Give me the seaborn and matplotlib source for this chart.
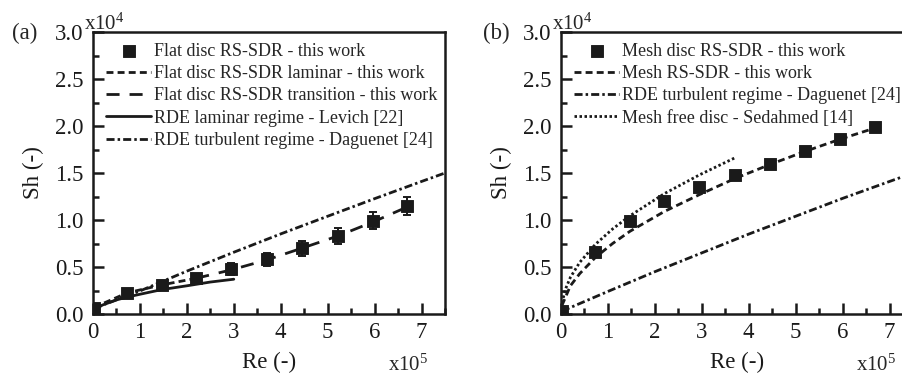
import numpy as np
import seaborn as sns
import matplotlib.pyplot as plt
from matplotlib.ticker import MultipleLocator, FormatStrFormatter

# values: Re in units of 1e5, Sh in units of 1e4
# (a) flat disc
flat_re = [0.02, 0.73, 1.47, 2.2, 2.95, 3.7, 4.45, 5.22, 5.97, 6.7]
flat_sh = [0.06, 0.22, 0.31, 0.38, 0.48, 0.58, 0.70, 0.83, 0.99, 1.15]
flat_err = [0.02, 0.03, 0.03, 0.04, 0.065, 0.07, 0.08, 0.085, 0.09, 0.095]

flat_lam_re = [0.02, 0.73, 1.47, 2.2]
flat_lam_sh = [0.07, 0.225, 0.31, 0.38]

flat_trans_re = [2.2, 2.95, 3.7, 4.45, 5.22, 5.97, 6.7]
flat_trans_sh = [0.38, 0.47, 0.575, 0.70, 0.83, 0.98, 1.14]

levich_re = [0.02, 0.2, 0.5, 0.73, 1.0, 1.47, 2.0, 2.5, 3.0]
levich_sh = [0.04, 0.095, 0.15, 0.18, 0.21, 0.26, 0.30, 0.34, 0.37]

dag_a_re = [0.02, 1, 2, 3, 4, 5, 6, 7, 7.5]
dag_a_sh = [0.06, 0.245, 0.456, 0.657, 0.852, 1.04, 1.227, 1.41, 1.5]

# (b) mesh disc
mesh_re = [0.02, 0.73, 1.47, 2.2, 2.95, 3.7, 4.45, 5.2, 5.95, 6.7]
mesh_sh = [0.03, 0.66, 0.99, 1.20, 1.35, 1.48, 1.60, 1.73, 1.86, 1.99]

mesh_fit_re = [0.02, 0.2, 0.4, 0.73, 1.1, 1.47, 2.2, 2.95, 3.7, 4.45, 5.2, 5.95, 6.7]
mesh_fit_sh = [0.09, 0.30, 0.43, 0.60, 0.75, 0.88, 1.09, 1.27, 1.44, 1.59, 1.73, 1.86, 1.98]

sedahmed_re = [0.02, 0.1, 0.2, 0.4, 0.73, 1.1, 1.47, 2.2, 2.95, 3.7]
sedahmed_sh = [0.12, 0.27, 0.39, 0.55, 0.74, 0.905, 1.045, 1.28, 1.48, 1.66]

dag_b_re = [0.02, 1, 2, 3, 4, 5, 6, 7, 7.5]
dag_b_sh = [0.03, 0.24, 0.45, 0.65, 0.85, 1.04, 1.23, 1.41, 1.5]

labels_a = ["Flat disc RS-SDR - this work",
            "Flat disc RS-SDR laminar - this work",
            "Flat disc RS-SDR transition - this work",
            "RDE laminar regime - Levich [22]",
            "RDE turbulent regime - Daguenet [24]"]
labels_b = ["Mesh disc RS-SDR - this work",
            "Mesh RS-SDR - this work",
            "RDE turbulent regime - Daguenet [24]",
            "Mesh free disc - Sedahmed [14]"]

sns.set_theme(style="ticks")
plt.rcParams['font.family'] = ['Liberation Serif', 'DejaVu Serif']
plt.rcParams['mathtext.fontset'] = 'custom'
plt.rcParams['mathtext.rm'] = 'Liberation Serif'
plt.rcParams['mathtext.default'] = 'rm'

LW = 2.0
short_dash = (0, (2.5, 1.5))
long_dash = (0, (4.7, 3.6))
dash_dot = (0, (2.9, 1.1, 0.9, 1.1))
dotted = (0, (0.9, 0.9))

fig = plt.figure(figsize=(9.03, 3.82), dpi=100)
ax1 = fig.add_axes([93 / 903, 1 - 314 / 382, 352 / 903, 282 / 382])
ax2 = fig.add_axes([561 / 903, 1 - 314 / 382, 352 / 903, 282 / 382])


def line(ax, x, y, ls, label):
    sns.lineplot(x=x, y=y, ax=ax, color='k', linewidth=LW, linestyle=ls)
    ln = ax.lines[-1]
    ln.set_label(label)
    return ln


# --- (a) ---
ax1.errorbar(flat_re, flat_sh, yerr=flat_err, fmt='none', ecolor='k',
             elinewidth=1.4, capsize=3, capthick=1.4, zorder=3)
sns.scatterplot(x=flat_re, y=flat_sh, ax=ax1, marker='s', s=65, color='k',
                edgecolor='k', zorder=4)
h_a = [ax1.collections[-1]]
h_a.append(line(ax1, flat_lam_re, flat_lam_sh, short_dash, labels_a[1]))
h_a.append(line(ax1, flat_trans_re, flat_trans_sh, long_dash, labels_a[2]))
h_a.append(line(ax1, levich_re, levich_sh, '-', labels_a[3]))
h_a.append(line(ax1, dag_a_re, dag_a_sh, dash_dot, labels_a[4]))

# --- (b) ---
sns.scatterplot(x=mesh_re, y=mesh_sh, ax=ax2, marker='s', s=65, color='k',
                edgecolor='k', zorder=4)
h_b = [ax2.collections[-1]]
h_b.append(line(ax2, mesh_fit_re, mesh_fit_sh, short_dash, labels_b[1]))
h_b.append(line(ax2, dag_b_re, dag_b_sh, dash_dot, labels_b[2]))
h_b.append(line(ax2, sedahmed_re, sedahmed_sh, dotted, labels_b[3]))

for ax, handles, labels, tag, tx in [(ax1, h_a, labels_a, "(a)", 12),
                                      (ax2, h_b, labels_b, "(b)", 483)]:
    ax.set_xlim(0, 7.5)
    ax.set_ylim(0, 3.0)
    ax.xaxis.set_major_locator(MultipleLocator(1))
    ax.xaxis.set_minor_locator(MultipleLocator(0.5))
    ax.yaxis.set_major_locator(MultipleLocator(0.5))
    ax.yaxis.set_minor_locator(MultipleLocator(0.25))
    ax.xaxis.set_major_formatter(FormatStrFormatter('%d'))
    ax.yaxis.set_major_formatter(FormatStrFormatter('%.1f'))
    ax.tick_params(which='both', direction='in', top=False, right=False,
                   width=1.8, colors='k', labelsize=16.5)
    ax.tick_params(which='major', length=8)
    ax.tick_params(which='minor', length=4.5)
    ax.tick_params(axis='x', pad=6)
    ax.tick_params(axis='y', pad=7)
    for sp in ax.spines.values():
        sp.set_linewidth(1.8)
        sp.set_color('k')
    ax.set_xlabel("Re (-)", fontsize=16.5, color='k')
    ax.xaxis.set_label_coords(0.5, -0.135)
    ax.set_ylabel("Sh (-)", fontsize=16.5, color='k')
    ax.yaxis.set_label_coords(-0.14, 0.5)
    ax.text(-0.025, 1.007, r"x10$^4$", transform=ax.transAxes, fontsize=15,
            ha='left', va='baseline')
    ax.text(0.838, -0.2, r"x10$^5$", transform=ax.transAxes, fontsize=15,
            ha='left', va='baseline')
    fig.text(tx / 903, 1 - 33 / 382, tag, fontsize=16.5, ha='left', va='center')
    ax.legend(handles, labels, loc='upper left', bbox_to_anchor=(0.02, 0.985),
              frameon=False, fontsize=13, handlelength=2.5, handletextpad=0.15,
              labelspacing=0.3, borderpad=0.35, borderaxespad=0.0,
              scatterpoints=1)

fig.savefig("out.png", dpi=100)
